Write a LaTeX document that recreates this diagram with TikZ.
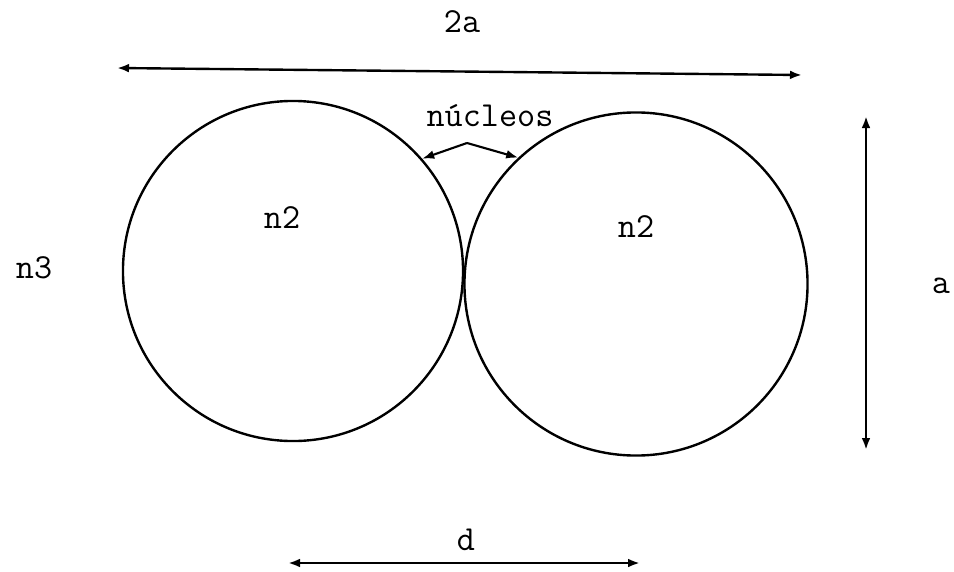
\documentclass[tikz,border=0pt]{standalone}
\usepackage{fontspec}
\usepackage{tikz}
\usetikzlibrary{arrows.meta,calc,positioning}

\begin{document}
\begin{tikzpicture}[
  x=0.025cm,
  y=-0.025cm,
  >=Latex,
  lobe/.style={
    draw=black,
    circle,
    line width=1.7pt,
    inner sep=0pt
  },
  label/.style={
    font=\ttfamily\fontsize{25}{29}\selectfont,
    inner sep=1pt
  },
  dimen/.style={
    {Latex[length=3mm,width=2.2mm]}-{Latex[length=3mm,width=2.2mm]},
    line width=1.7pt
  },
  pointer/.style={
    -{Latex[length=3mm,width=2.2mm]},
    line width=1.5pt
  }
]

\useasboundingbox[fill=white] (0,0) rectangle (954,572);

% the two spheres
\node[lobe, minimum size=8.5cm] (left) at (293,271) {};
\node[lobe, minimum size=8.575cm] (right) at (636,284) {};

\node[label] (lname) at (282,218) {n2};
\node[label] (rname) at (636,227) {n2};
\node[label] (outer) at (34,268) {n3};

% nuclei
\node[label] (nuc) at (490,116) {n\'ucleos};
\coordinate (apex) at (467,143);
\draw[pointer] (apex) -- (left.41);
\draw[pointer] (apex) -- (right.133);

% dimensions
\node[label] (wide) at (462,22) {2a};
\coordinate (wl) at (117,68);
\coordinate (wr) at (802,75);
\draw[dimen] (wl) -- (wr);

\node[label] (high) at (941,286) {a};
\coordinate (ht) at (866,116);
\coordinate (hb) at (866,450);
\draw[dimen] (ht) -- (hb);

\node[label] (dist) at (466,540) {d};
\coordinate (dl) at (288,563);
\coordinate (dr) at (640,563);
\draw[dimen] (dl) -- (dr);

\end{tikzpicture}
\end{document}
